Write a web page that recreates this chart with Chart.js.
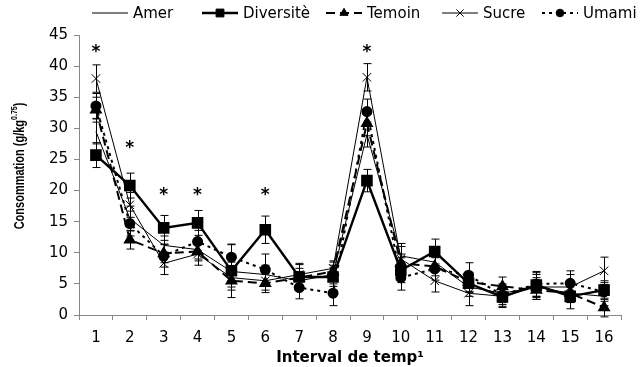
<!DOCTYPE html>
<html>
<head>
<meta charset="utf-8">
<script src="https://cdn.jsdelivr.net/npm/chart.js@4.4.0/dist/chart.umd.min.js"></script>
<style>
  html, body { margin: 0; padding: 0; background: #fff; }
  #wrap { width: 643px; height: 367px; }
</style>
</head>
<body>
<div id="wrap"><canvas id="chart"></canvas></div>
<script>
// time intervals (x categories)
const intervals = ['1', '2', '3', '4', '5', '6', '7', '8', '9', '10', '11', '12', '13', '14', '15', '16'];

// consumption per group, with error bars
const amer        = [29.5, 15.5, 11.2, 10.5, 7.0, 6.5, 5.5, 6.5, 29.0, 9.5, 8.5, 4.5, 3.5, 4.5, 3.5, 3.0];
const amerErr     = [2.0, 2.0, 1.5, 1.5, 1.5, 1.5, 1.5, 1.5, 2.0, 2.0, 1.5, 1.5, 1.5, 1.5, 1.5, 1.5];
const diversite   = [25.7, 20.8, 14.0, 14.8, 7.1, 13.7, 6.1, 6.1, 21.6, 7.2, 10.2, 5.1, 2.9, 4.8, 3.0, 4.0];
const diversiteErr= [2.0, 2.0, 2.0, 2.0, 4.3, 2.2, 2.0, 1.5, 1.8, 2.0, 2.0, 1.5, 1.5, 2.0, 2.0, 1.5];
const temoin      = [33.0, 12.1, 9.9, 10.2, 5.5, 5.1, 6.0, 7.0, 30.8, 8.3, 7.8, 5.3, 4.6, 4.0, 3.5, 1.2];
const temoinErr   = [2.0, 1.5, 1.5, 1.5, 1.5, 1.5, 1.5, 1.5, 2.0, 1.5, 1.5, 1.5, 1.5, 1.5, 1.5, 1.5];
const sucre       = [38.0, 17.7, 8.3, 9.8, 6.0, 5.5, 6.5, 7.5, 38.2, 9.0, 5.5, 3.5, 3.0, 4.5, 4.5, 7.1];
const sucreErr    = [2.2, 2.0, 1.8, 1.8, 1.5, 1.5, 1.8, 1.2, 2.2, 2.0, 1.8, 2.0, 1.8, 2.0, 2.0, 2.2];
const umami       = [33.6, 14.7, 9.5, 11.8, 9.3, 7.3, 4.4, 3.5, 32.7, 6.0, 7.4, 6.4, 3.2, 5.0, 5.1, 3.7];
const umamiErr    = [2.0, 2.0, 1.8, 1.8, 2.0, 2.5, 1.8, 2.0, 2.0, 2.0, 1.8, 2.0, 1.5, 2.0, 2.0, 1.5];

// significance marks (value where the * sits)
const stars = [42.6, 27.2, 19.6, 19.6, null, 19.6, null, null, 42.6, null, null, null, null, null, null, null];

const FONT = "'DejaVu Sans', sans-serif";

// error bars + asterisks
const errorBarPlugin = {
    id: 'errorBars',
    afterDatasetsDraw(chart) {
        const ctx = chart.ctx;
        const yScale = chart.scales.y;
        const xScale = chart.scales.x;
        ctx.save();
        ctx.strokeStyle = '#000';
        ctx.lineWidth = 1;
        chart.data.datasets.forEach((ds, i) => {
            const meta = chart.getDatasetMeta(i);
            meta.data.forEach((pt, j) => {
                const v = ds.data[j];
                const e = ds.errors[j];
                const x = Math.round(pt.x) + 0.5;
                const yt = yScale.getPixelForValue(v + e);
                const yb = yScale.getPixelForValue(v - e);
                ctx.beginPath();
                ctx.moveTo(x, yt); ctx.lineTo(x, yb);
                ctx.moveTo(x - 4, yt); ctx.lineTo(x + 4, yt);
                ctx.moveTo(x - 4, yb); ctx.lineTo(x + 4, yb);
                ctx.stroke();
            });
        });
        ctx.fillStyle = '#000';
        ctx.font = 'bold 17px ' + FONT;
        ctx.textAlign = 'center';
        ctx.textBaseline = 'middle';
        stars.forEach((s, j) => {
            if (s === null) return;
            ctx.fillText('*', xScale.getPixelForValue(j), yScale.getPixelForValue(s) + 3);
        });
        ctx.restore();
    }
};

// legend with line + marker, and the rotated y title
const legendPlugin = {
    id: 'lineLegend',
    afterDraw(chart) {
        const ctx = chart.ctx;
        const xs = [92, 202, 326, 442, 542];
        const y = 13;
        ctx.save();
        chart.data.datasets.forEach((ds, i) => {
            const x0 = xs[i];
            ctx.strokeStyle = '#000';
            ctx.lineWidth = ds.borderWidth;
            ctx.setLineDash(ds.borderDash || []);
            ctx.beginPath();
            ctx.moveTo(x0, y); ctx.lineTo(x0 + 36, y);
            ctx.stroke();
            ctx.setLineDash([]);
            if (ds.pointRadius > 0) {
                ctx.fillStyle = '#000';
                ctx.lineWidth = 1;
                Chart.helpers.drawPoint(ctx, {
                    pointStyle: ds.pointStyle, radius: ds.pointRadius * 0.85,
                    rotation: 0, borderWidth: 1
                }, x0 + 18, y);
            }
            ctx.fillStyle = '#000';
            ctx.font = '15px ' + FONT;
            ctx.textAlign = 'left';
            ctx.textBaseline = 'middle';
            ctx.fillText(ds.label, x0 + 41, y + 1);
        });

        // y axis title
        ctx.translate(20, 166);
        ctx.rotate(-Math.PI / 2);
        ctx.scale(1, 1.3);
        ctx.fillStyle = '#000';
        ctx.textBaseline = 'middle';
        const main = 'Consommation (g/kg';
        const sup = '0.75';
        ctx.font = "bold 11px 'Liberation Sans', Arial, sans-serif";
        const w1 = ctx.measureText(main).width;
        ctx.font = "bold 7px 'Liberation Sans', Arial, sans-serif";
        const w2 = ctx.measureText(sup).width;
        ctx.font = "bold 11px 'Liberation Sans', Arial, sans-serif";
        const w3 = ctx.measureText(')').width;
        let x = -(w1 + w2 + w3) / 2;
        ctx.textAlign = 'left';
        ctx.fillText(main, x, 0);
        x += w1;
        ctx.font = "bold 7px 'Liberation Sans', Arial, sans-serif";
        ctx.fillText(sup, x, -4);
        x += w2;
        ctx.font = "bold 11px 'Liberation Sans', Arial, sans-serif";
        ctx.fillText(')', x, 0);
        ctx.restore();
    }
};

const ctx = document.getElementById('chart').getContext('2d');
new Chart(ctx, {
    type: 'line',
    data: {
        labels: intervals,
        datasets: [
            {
                label: 'Amer', data: amer, errors: amerErr,
                borderColor: '#000', backgroundColor: '#000',
                borderWidth: 1, pointRadius: 0, pointStyle: 'line'
            },
            {
                label: 'Diversitè', data: diversite, errors: diversiteErr,
                borderColor: '#000', backgroundColor: '#000',
                borderWidth: 2.4, pointRadius: 6.5, pointStyle: 'rect'
            },
            {
                label: 'Temoin', data: temoin, errors: temoinErr,
                borderColor: '#000', backgroundColor: '#000',
                borderWidth: 2, borderDash: [9, 5], pointRadius: 5.5, pointStyle: 'triangle'
            },
            {
                label: 'Sucre', data: sucre, errors: sucreErr,
                borderColor: '#000', backgroundColor: '#000',
                borderWidth: 1, pointRadius: 6, pointStyle: 'crossRot'
            },
            {
                label: 'Umami', data: umami, errors: umamiErr,
                borderColor: '#000', backgroundColor: '#000',
                borderWidth: 2, borderDash: [3, 4], pointRadius: 4.5, pointStyle: 'circle'
            }
        ]
    },
    options: {
        responsive: true,
        maintainAspectRatio: false,
        animation: false,
        layout: { padding: { top: 35, left: 0, right: 22, bottom: 0 } },
        plugins: {
            legend: { display: false },
            tooltip: { enabled: false }
        },
        elements: {
            line: { tension: 0, fill: false },
            point: { borderWidth: 1 }
        },
        scales: {
            x: {
                offset: true,
                grid: { display: true, drawOnChartArea: false, drawTicks: true, tickLength: 5, color: '#888', offset: true },
                border: { color: '#888' },
                ticks: { color: '#000', font: { family: FONT, size: 15 }, padding: 9, maxRotation: 0, autoSkip: false },
                title: {
                    display: true, text: 'Interval de temp\u00b9', color: '#000',
                    font: { family: FONT, size: 15, weight: 'bold' }, padding: { top: 0, bottom: 0 }
                },
                afterFit: s => { s.height = 52; }
            },
            y: {
                min: 0, max: 45,
                grid: { display: true, drawOnChartArea: false, drawTicks: true, tickLength: 5, color: '#888' },
                border: { color: '#888' },
                ticks: { stepSize: 5, color: '#000', font: { family: FONT, size: 15 }, padding: 6 },
                afterFit: s => { s.width = 79; }
            }
        }
    },
    plugins: [errorBarPlugin, legendPlugin]
});
</script>
</body>
</html>
